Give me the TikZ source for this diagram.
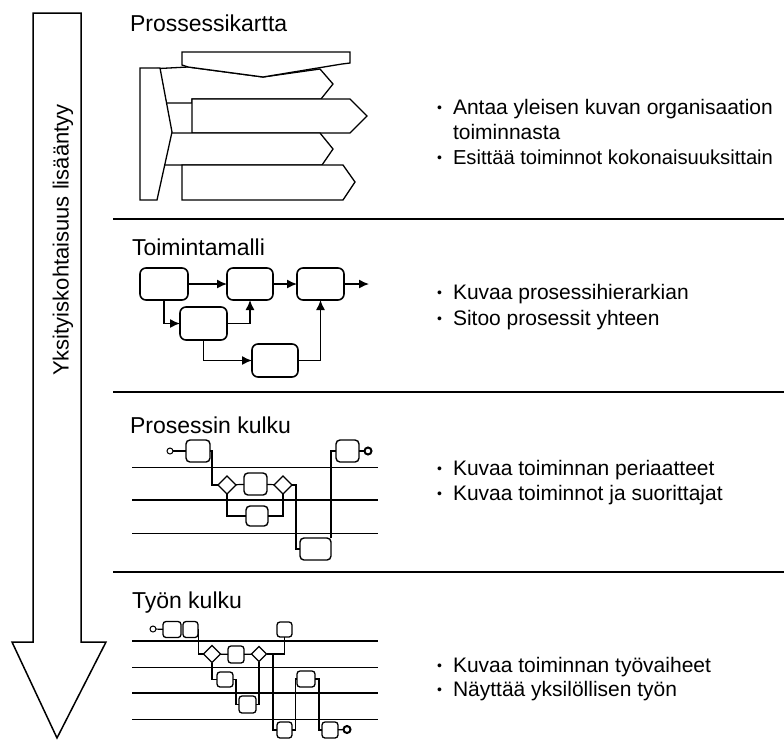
\documentclass[tikz,border=0pt]{standalone}
\usepackage{fontspec}
\setmainfont{Liberation Sans}
\usetikzlibrary{shapes.geometric,arrows.meta}
\begin{document}
\begin{tikzpicture}[x=1pt,y=-1pt,
  every node/.style={inner sep=0pt,outer sep=0pt},
  title/.style={anchor=base west,font=\fontsize{23}{23}\selectfont},
  btxt/.style={anchor=base west,font=\fontsize{21}{21}\selectfont},
  bul/.style={anchor=base west,font=\fontsize{14}{14}\selectfont},
  pm/.style={draw,line width=1.3pt,line join=miter,fill=white},
  tbox/.style={draw,line width=1.6pt,rounded corners=6pt,minimum width=47pt,minimum height=32pt},
  pbox/.style={draw,line width=1.4pt,rounded corners=4pt,fill=white},
  wbox/.style={draw,line width=1.3pt,rounded corners=3pt,fill=white},
  dia/.style={draw,diamond,line width=1.3pt,fill=white},
  sc/.style={draw,circle,minimum size=6pt,line width=1pt,fill=white},
  ec/.style={draw,circle,minimum size=7pt,line width=2pt,fill=white},
  arr/.style={-{Latex[length=10pt,width=9pt]},line width=1.4pt},
  con/.style={line width=1.2pt},
  lane/.style={line width=1pt},
  tlane/.style={line width=2pt}
]
\useasboundingbox (0,0) rectangle (784,740);

% big arrow
\draw[line width=1.5pt,line join=miter] (33,13) -- (81,13) -- (81,642) -- (106,642) -- (57,738) -- (12,642) -- (33,642) -- cycle;
\node[rotate=90,font=\fontsize{22}{22}\selectfont] (vlab) at (63,240) {Yksityiskohtaisuus lisääntyy};

% separators
\draw[line width=1.5pt] (113,219) -- (784,219);
\draw[line width=2pt] (113,392) -- (784,392);
\draw[line width=2.5pt] (113,572) -- (784,572);

% ---------- Section 1: Prossessikartta
\node[title] (t1) at (130,31) {Prossessikartta};
\draw[pm] (150,69) -- (188,67) -- (263,77) -- (320,69) -- (333,84) -- (321,99) -- (192,99) -- (192,103) -- (150,103) -- cycle;
\draw[pm] (182,52) -- (350,52) -- (350,63) -- (342,64) -- (263,77) -- (188,67) -- (182,65) -- cycle;
\draw[pm] (192,99) -- (350,99) -- (367,116) -- (350,133) -- (192,133) -- cycle;
\draw[pm] (150,133) -- (320,133) -- (333,149) -- (322,165) -- (150,165) -- cycle;
\draw[pm] (182,165) -- (343,165) -- (355,182) -- (343,200) -- (182,200) -- cycle;
\draw[pm] (140,68) -- (160,68) -- (172,132) -- (157,200) -- (140,200) -- cycle;

\node[bul] (b1a) at (437,112) {\textbullet};
\node[btxt] (x1a) at (453,114) {Antaa yleisen kuvan organisaation};
\node[btxt] (x1b) at (453,139) {toiminnasta};
\node[bul] (b1b) at (437,162) {\textbullet};
\node[btxt,font=\fontsize{20.2}{20.2}\selectfont] (x1c) at (453,164) {Esittää toiminnot kokonaisuuksittain};

% ---------- Section 2: Toimintamalli
\node[title] (t2) at (132,255) {Toimintamalli};
\node[tbox,minimum width=48pt] (A) at (164,284) {};
\node[tbox,minimum width=46pt] (B) at (250,284) {};
\node[tbox] (C) at (320.5,284) {};
\node[tbox,minimum height=33pt] (D) at (203.5,323.5) {};
\node[tbox,minimum width=46pt,minimum height=33pt] (E) at (275,360.5) {};
\coordinate (Cout) at (369,284);
\draw[arr] (A.east) -- (B.west);
\draw[arr] (B.east) -- (C.west);
\draw[arr] (C.east) -- (Cout);
\draw[arr] (A.south) |- (D.west);
\draw[arr] (D.east) -| (B.south);
\draw[arr] (D.south) |- (E.west);
\draw[arr] (E.east) -| (C.south);

\node[bul] (b2a) at (437,297) {\textbullet};
\node[btxt] (x2a) at (453,299) {Kuvaa prosessihierarkian};
\node[bul] (b2b) at (437,323) {\textbullet};
\node[btxt] (x2b) at (453,325) {Sitoo prosessit yhteen};

% ---------- Section 3: Prosessin kulku
\node[title] (t3) at (130,433) {Prosessin kulku};
\draw[lane] (132,467) -- (378,467);
\draw[tlane] (132,500) -- (378,500);
\draw[lane] (132,533) -- (378,533);

\node[sc] (s1) at (170,451) {};
\node[pbox,minimum width=24pt,minimum height=22pt] (p1) at (198,451) {};
\node[dia,minimum size=18pt] (d1) at (227,485) {};
\node[pbox,minimum width=23pt,minimum height=22pt] (p2) at (255.5,484) {};
\node[dia,minimum size=18pt] (d2) at (283,485) {};
\node[pbox,minimum width=22pt,minimum height=20pt] (p3) at (257,516) {};
\node[pbox,minimum width=31pt,minimum height=22pt] (p4) at (315.5,549) {};
\node[pbox,minimum width=23pt,minimum height=22pt] (p5) at (347.5,451) {};
\node[ec] (e1) at (368,451) {};
\draw[con] (s1) -- (p1);
\draw[con] (p1.east) -| ([xshift=-6pt]d1.west) -- (d1.west);
\draw[con] (d1) -- (p2);
\draw[con] (p2) -- (d2);
\draw[con] (d1.south) |- (p3.west);
\draw[con] (p3.east) -| (d2.south);
\draw[con,line width=1.6pt] (d2.east) -| ([xshift=-4pt]p4.west) -- (p4.west);
\draw[con] (p4.north east) |- (p5.west);
\draw[con] (p5) -- (e1);

\node[bul] (b3a) at (437,473) {\textbullet};
\node[btxt] (x3a) at (453,475) {Kuvaa toiminnan periaatteet};
\node[bul] (b3b) at (437,498) {\textbullet};
\node[btxt] (x3b) at (453,500) {Kuvaa toiminnot ja suorittajat};

% ---------- Section 4: Työn kulku
\node[title] (t4) at (132,608) {Työn kulku};
\draw[tlane] (132,641) -- (378,641);
\draw[lane] (132,667) -- (378,667);
\draw[tlane] (132,693) -- (378,693);
\draw[lane] (132,719) -- (378,719);

\node[sc] (s2) at (153,629) {};
\node[wbox,minimum width=18pt,minimum height=16pt] (wa) at (172,629.5) {};
\node[wbox,minimum width=15pt,minimum height=16pt] (wb) at (190.5,629.5) {};
\node[dia,minimum size=17pt] (q1) at (212,654) {};
\node[wbox,minimum width=16pt,minimum height=17pt] (wc) at (236,654.5) {};
\node[dia,minimum size=15pt] (q2) at (259,654) {};
\node[wbox,minimum width=15pt,minimum height=15pt] (wt) at (284.5,629.5) {};
\node[wbox,minimum width=16pt,minimum height=15pt] (wd) at (225,679.5) {};
\node[wbox,minimum width=17pt,minimum height=17pt] (wf) at (247.5,704.5) {};
\node[wbox,minimum width=15pt,minimum height=16pt] (we) at (284.5,730) {};
\node[wbox,minimum width=18pt,minimum height=16pt] (wg) at (306,679) {};
\node[wbox,minimum width=16pt,minimum height=16pt] (wh) at (330,730) {};
\node[ec] (e2) at (347,729.5) {};
\coordinate (j1) at (273,654);

\draw[con] (s2) -- (wa);
\draw[con] (wb.east) -| ([xshift=-5pt]q1.west) -- (q1.west);
\draw[con] (q1) -- (wc);
\draw[con] (wc) -- (q2);
\draw[con] (q2.east) -| (wt.south);
\draw[con] (j1) |- (we.west);
\draw[con] (q1.south) |- (wd.west);
\draw[con] (wd.east) -| ([xshift=-3pt]wf.west) -- (wf.west);
\draw[con] (wf.east) -| (q2.south);
\draw[con] (we.east) -| ([xshift=-1.5pt]wg.west) -- (wg.west);
\draw[con] (wg.east) -| ([xshift=-3pt]wh.west) -- (wh.west);
\draw[con] (wh) -- (e2);

\node[bul] (b4a) at (437,670) {\textbullet};
\node[btxt] (x4a) at (453,672) {Kuvaa toiminnan työvaiheet};
\node[bul] (b4b) at (437,694) {\textbullet};
\node[btxt] (x4b) at (453,696) {Näyttää yksilöllisen työn};
\end{tikzpicture}
\end{document}
